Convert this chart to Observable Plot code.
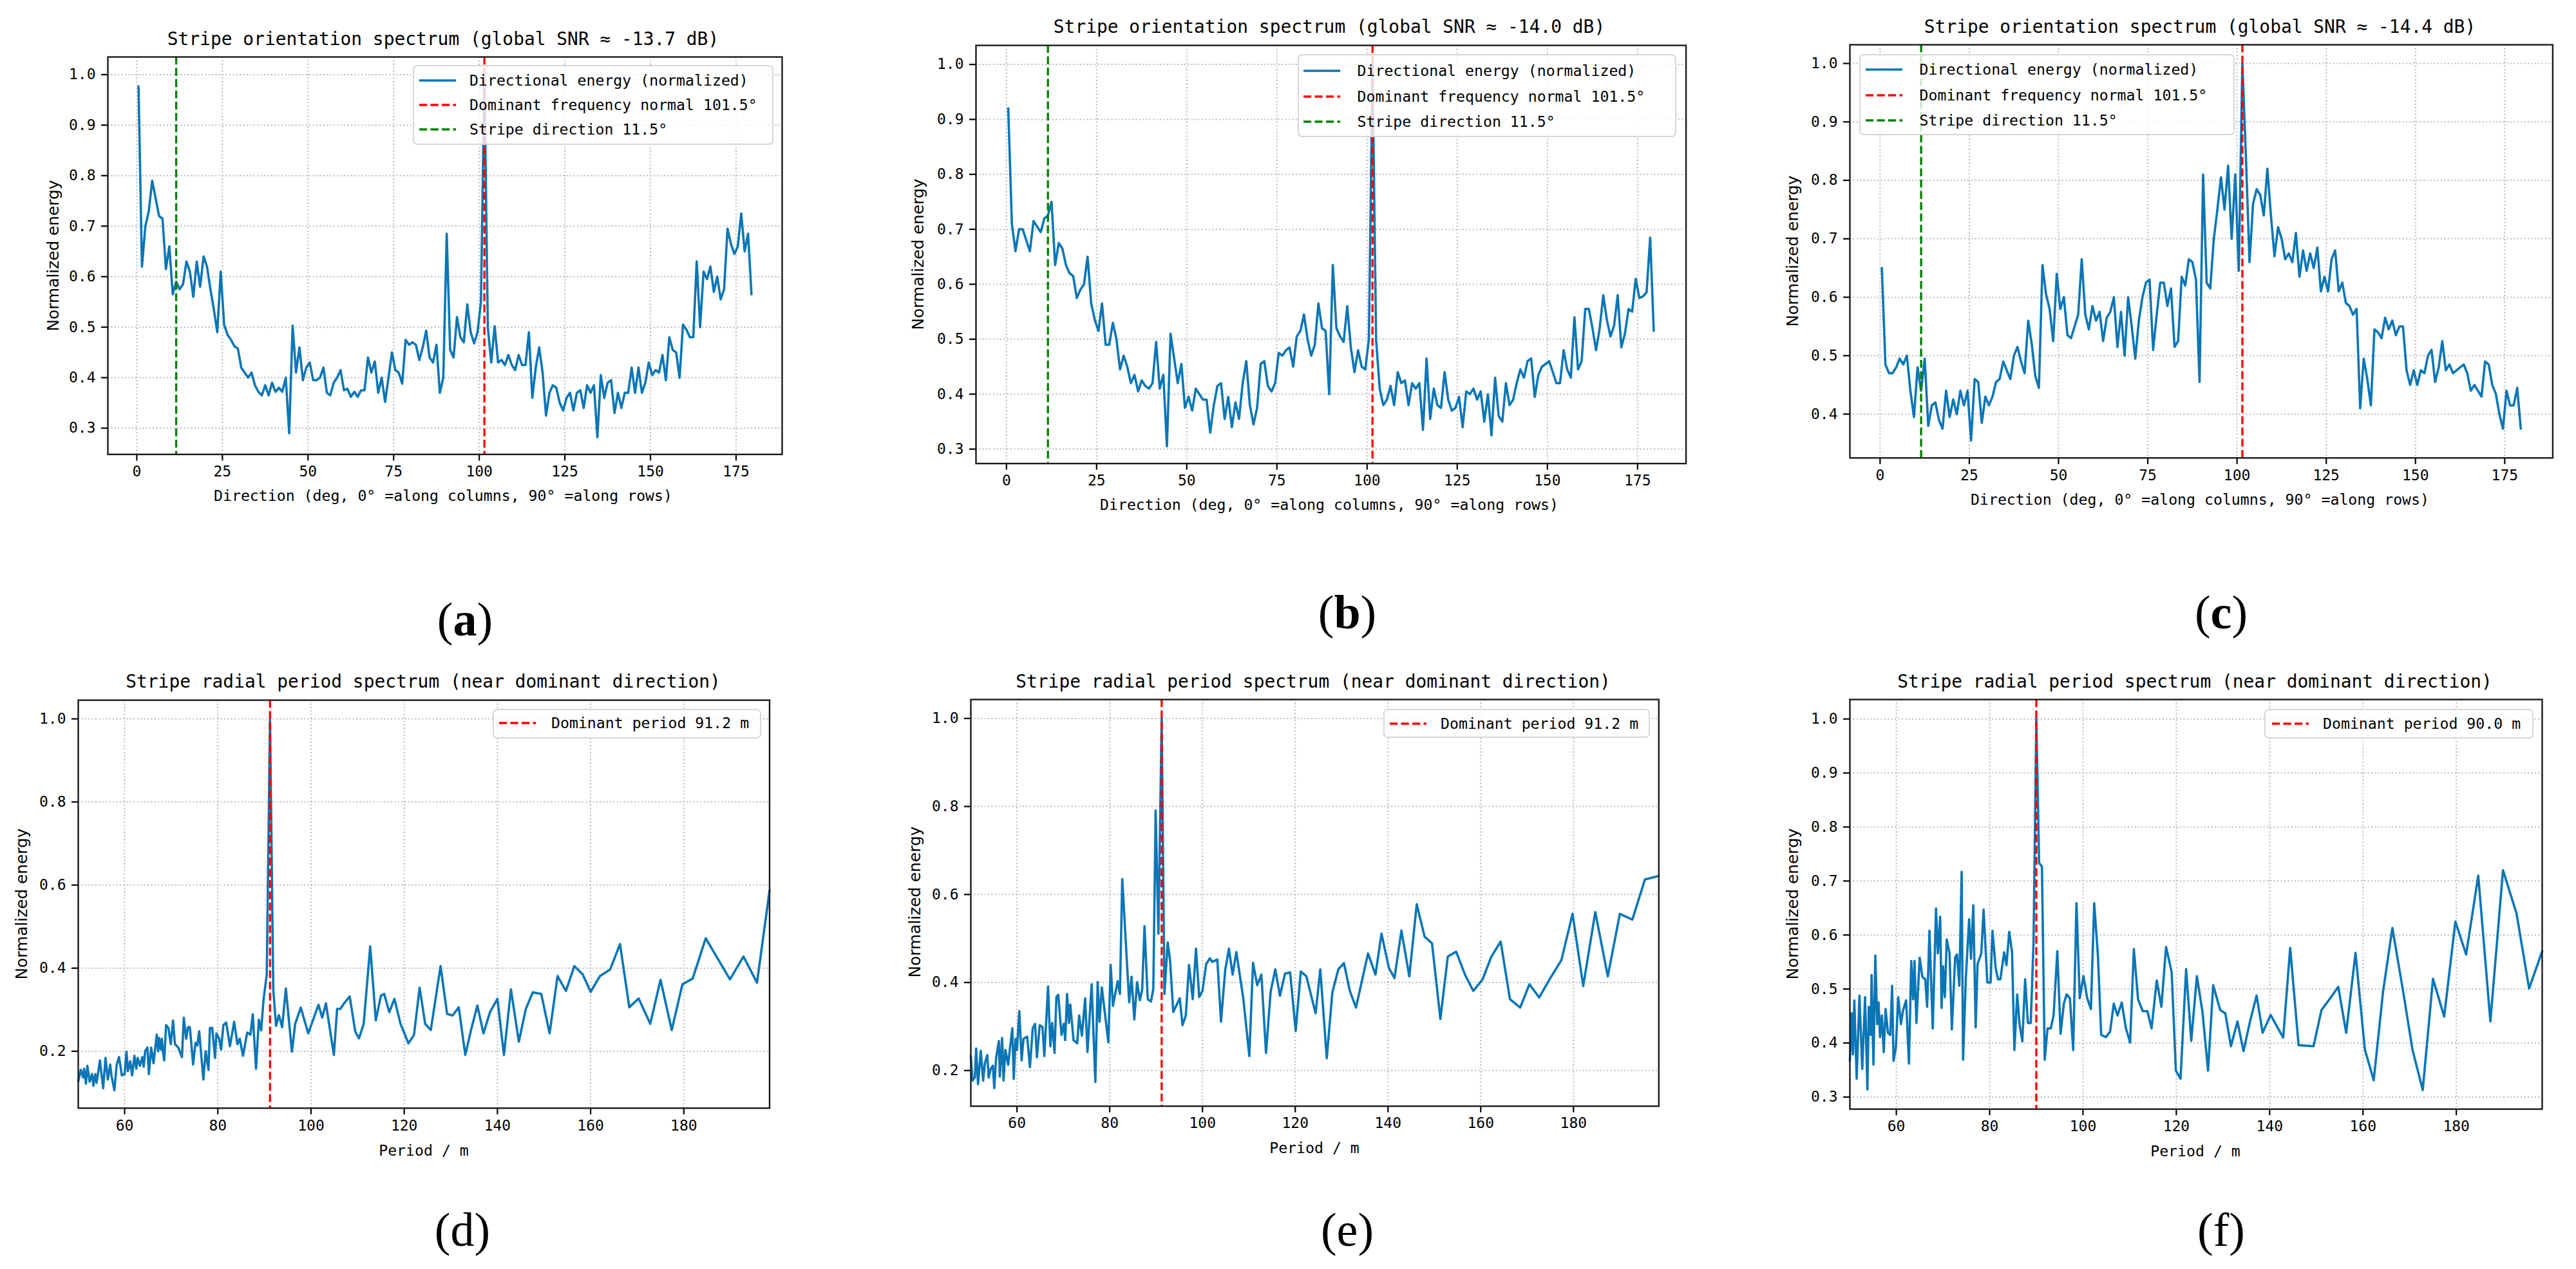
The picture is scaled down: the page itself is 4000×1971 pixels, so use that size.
<!DOCTYPE html>
<html><head><meta charset="utf-8">
<script src="https://cdn.jsdelivr.net/npm/d3@7"></script>
<script src="https://cdn.jsdelivr.net/npm/@observablehq/plot@0.6"></script>
<style>
html,body{margin:0;padding:0;background:#fff;}
#page{position:relative;width:4000px;height:1971px;overflow:hidden;background:#fff;}
.t{position:absolute;white-space:pre;line-height:1;color:#000;}
</style></head><body><div id="page"></div>
<script>
// ---------- data ----------
const angles = d3.range(0.5, 180, 1); // direction bins, deg
const directionTicks = [0, 25, 50, 75, 100, 125, 150, 175];
const periodTicks = [60, 80, 100, 120, 140, 160, 180];

const energyA = [0.977,0.62,0.70,0.73,0.79,0.755,0.72,0.715,0.615,0.66,
 0.565,0.59,0.575,0.585,0.63,0.61,0.56,0.63,0.58,0.64,
 0.62,0.575,0.535,0.49,0.61,0.505,0.485,0.475,0.462,0.458,
 0.42,0.41,0.40,0.41,0.385,0.372,0.365,0.385,0.365,0.39,
 0.372,0.38,0.372,0.40,0.29,0.503,0.41,0.46,0.395,0.42,
 0.43,0.395,0.395,0.40,0.42,0.37,0.365,0.39,0.40,0.415,
 0.375,0.378,0.362,0.372,0.362,0.375,0.375,0.44,0.41,0.432,
 0.37,0.40,0.352,0.40,0.45,0.415,0.41,0.388,0.475,0.465,
 0.47,0.465,0.435,0.46,0.493,0.44,0.43,0.465,0.37,0.40,
 0.685,0.455,0.44,0.52,0.48,0.47,0.545,0.49,0.468,0.49,
 0.55,1.0,0.50,0.43,0.502,0.43,0.435,0.425,0.445,0.425,
 0.415,0.445,0.425,0.425,0.49,0.36,0.42,0.46,0.41,0.325,
 0.37,0.385,0.38,0.35,0.335,0.36,0.37,0.335,0.37,0.375,
 0.34,0.385,0.37,0.385,0.282,0.405,0.36,0.39,0.395,0.33,
 0.37,0.34,0.37,0.37,0.42,0.37,0.42,0.37,0.39,0.43,
 0.405,0.415,0.41,0.445,0.395,0.48,0.455,0.45,0.40,0.505,
 0.495,0.48,0.48,0.63,0.50,0.61,0.595,0.62,0.57,0.60,
 0.555,0.575,0.695,0.665,0.645,0.66,0.725,0.65,0.685,0.565];

const energyB = [0.92,0.71,0.66,0.70,0.70,0.68,0.66,0.715,0.705,0.695,
 0.72,0.725,0.75,0.635,0.675,0.665,0.635,0.62,0.615,0.575,
 0.59,0.60,0.65,0.565,0.535,0.515,0.565,0.49,0.49,0.53,
 0.50,0.445,0.47,0.45,0.42,0.435,0.405,0.425,0.415,0.41,
 0.42,0.495,0.41,0.435,0.305,0.51,0.465,0.42,0.455,0.375,
 0.395,0.37,0.41,0.40,0.39,0.39,0.33,0.38,0.415,0.42,
 0.355,0.395,0.34,0.385,0.355,0.42,0.46,0.38,0.345,0.375,
 0.455,0.46,0.415,0.405,0.42,0.475,0.47,0.48,0.485,0.45,
 0.505,0.515,0.545,0.50,0.47,0.49,0.565,0.52,0.515,0.40,
 0.635,0.52,0.505,0.495,0.56,0.485,0.44,0.48,0.45,0.445,
 0.50,1.0,0.50,0.41,0.38,0.39,0.415,0.38,0.44,0.42,
 0.425,0.38,0.42,0.41,0.42,0.335,0.465,0.355,0.41,0.38,
 0.375,0.44,0.39,0.37,0.375,0.395,0.34,0.405,0.40,0.41,
 0.39,0.405,0.35,0.40,0.325,0.43,0.36,0.35,0.42,0.38,
 0.39,0.42,0.445,0.43,0.46,0.465,0.395,0.435,0.45,0.455,
 0.46,0.44,0.42,0.42,0.48,0.445,0.43,0.54,0.445,0.46,
 0.555,0.555,0.52,0.48,0.52,0.58,0.535,0.505,0.525,0.58,
 0.485,0.51,0.555,0.55,0.61,0.575,0.578,0.585,0.685,0.515];

const energyC = [0.65,0.485,0.47,0.47,0.48,0.495,0.485,0.50,0.44,0.395,
 0.48,0.44,0.495,0.38,0.415,0.42,0.39,0.375,0.44,0.395,
 0.425,0.40,0.44,0.415,0.44,0.355,0.46,0.455,0.385,0.43,
 0.415,0.43,0.455,0.46,0.49,0.475,0.46,0.50,0.515,0.49,
 0.47,0.56,0.52,0.465,0.445,0.655,0.605,0.58,0.525,0.64,
 0.58,0.60,0.535,0.53,0.55,0.57,0.665,0.57,0.545,0.585,
 0.56,0.575,0.525,0.565,0.575,0.60,0.515,0.575,0.50,0.60,
 0.55,0.495,0.56,0.60,0.625,0.63,0.51,0.57,0.625,0.625,
 0.585,0.615,0.515,0.525,0.635,0.62,0.665,0.66,0.63,0.455,
 0.81,0.625,0.615,0.70,0.75,0.805,0.75,0.825,0.70,0.81,
 0.645,1.0,0.84,0.66,0.76,0.785,0.775,0.74,0.82,0.74,
 0.67,0.72,0.70,0.665,0.675,0.66,0.71,0.635,0.68,0.645,
 0.675,0.65,0.685,0.61,0.635,0.61,0.665,0.68,0.61,0.625,
 0.59,0.585,0.57,0.58,0.41,0.495,0.46,0.415,0.545,0.54,
 0.53,0.565,0.545,0.56,0.535,0.55,0.55,0.475,0.45,0.475,
 0.45,0.475,0.47,0.50,0.51,0.455,0.48,0.525,0.475,0.485,
 0.47,0.475,0.48,0.485,0.47,0.44,0.45,0.44,0.43,0.49,
 0.485,0.45,0.435,0.40,0.375,0.44,0.415,0.415,0.445,0.375];

const periodD = [50.05,50.6,51.1,51.3,51.7,52.0,52.5,53.0,53.3,53.7,
 54.0,54.7,55.4,55.9,56.4,56.9,57.2,57.8,58.3,58.8,
 59.4,60.0,60.4,60.7,61.2,61.6,62.1,62.5,62.8,63.3,
 63.8,64.1,64.4,64.9,65.2,65.7,66.2,66.9,67.2,67.4,
 67.8,68.0,68.2,68.5,68.9,69.4,69.9,70.4,70.8,71.5,
 72.3,72.7,73.2,73.6,74.0,74.7,75.2,75.6,76.0,76.9,
 77.4,78.0,78.3,78.8,79.4,79.7,80.3,80.7,81.2,81.8,
 82.6,83.5,84.2,84.7,85.4,86.3,87.0,87.5,88.2,88.8,
 89.3,89.8,90.5,91.2,91.9,92.5,93.1,93.8,94.6,95.9,
 96.6,97.8,99.4,101.6,102.4,103.2,104.9,105.6,106.3,107.2,
 108.3,109.5,110.3,111.3,112.7,113.9,115.0,115.7,116.8,117.9,
 119.2,120.9,122.1,123.3,124.5,125.7,127.8,129.2,130.4,131.7,
 133.1,134.4,135.7,137.0,138.4,140.0,141.4,142.9,144.6,146.1,
 147.6,149.4,151.2,152.9,154.7,156.5,158.3,160.0,162.0,164.2,
 166.3,168.3,170.3,172.8,175.0,177.4,179.7,181.9,184.7,186.8,
 189.9,192.8,195.7,198.4];
const energyD = [0.127,0.155,0.137,0.158,0.122,0.165,0.127,0.145,0.117,0.145,
 0.124,0.178,0.111,0.184,0.132,0.168,0.14,0.106,0.168,0.186,
 0.142,0.145,0.199,0.152,0.176,0.142,0.189,0.158,0.184,0.165,
 0.186,0.163,0.2,0.209,0.145,0.209,0.171,0.24,0.2,0.232,
 0.204,0.23,0.2,0.178,0.263,0.256,0.217,0.274,0.217,0.209,
 0.186,0.281,0.23,0.258,0.258,0.168,0.22,0.214,0.248,0.132,
 0.2,0.155,0.256,0.256,0.184,0.243,0.23,0.204,0.263,0.269,
 0.212,0.271,0.217,0.23,0.189,0.245,0.24,0.289,0.158,0.276,
 0.25,0.323,0.385,1.0,0.348,0.261,0.287,0.258,0.351,0.199,
 0.266,0.305,0.243,0.312,0.281,0.315,0.191,0.302,0.302,0.317,
 0.332,0.247,0.231,0.266,0.452,0.274,0.334,0.338,0.294,0.326,
 0.266,0.219,0.239,0.353,0.266,0.251,0.405,0.29,0.286,0.306,
 0.191,0.254,0.31,0.243,0.294,0.326,0.191,0.349,0.223,0.302,
 0.342,0.338,0.243,0.381,0.345,0.405,0.385,0.343,0.381,0.397,
 0.458,0.306,0.327,0.266,0.372,0.251,0.361,0.375,0.472,0.432,
 0.373,0.428,0.365,0.587];

const periodE = [50.05,50.4,50.9,51.2,51.6,52.2,52.7,53.1,53.6,53.9,
 54.3,54.8,55.1,55.5,56.1,56.3,56.8,57.1,57.5,58.1,
 58.5,59.0,59.3,59.7,60.0,60.5,61.0,61.4,62.2,62.8,
 63.4,63.9,64.3,64.9,65.5,65.9,66.7,67.2,67.6,68.1,
 68.5,68.9,69.6,70.1,70.4,70.8,71.2,71.5,72.2,73.0,
 73.4,74.0,74.7,75.2,76.1,76.9,77.4,77.8,78.3,79.7,
 80.2,80.7,81.1,81.7,82.2,82.7,84.2,84.7,85.3,85.9,
 86.5,87.0,87.5,88.2,88.9,89.4,89.9,90.5,91.2,91.8,
 92.5,93.0,93.7,95.1,95.7,96.4,97.1,97.9,98.6,99.3,
 100.0,100.8,101.6,102.1,103.2,104.0,104.9,105.7,106.5,107.3,
 108.8,110.1,110.9,111.8,112.7,113.7,114.7,115.7,116.7,117.8,
 118.9,120.1,121.2,122.4,124.4,125.4,126.8,128.0,129.3,130.5,
 131.8,133.1,135.7,137.3,138.6,140.2,141.4,142.9,144.6,146.2,
 147.9,149.5,151.3,152.9,154.7,156.6,158.4,160.4,162.3,164.3,
 166.3,168.5,170.5,172.6,175.0,177.4,179.8,182.1,184.7,187.4,
 190.0,192.7,195.4,198.4];
const energyE = [0.233,0.177,0.184,0.25,0.169,0.245,0.177,0.218,0.235,0.184,
 0.203,0.211,0.16,0.228,0.267,0.186,0.274,0.177,0.247,0.213,
 0.252,0.296,0.181,0.272,0.247,0.335,0.223,0.272,0.277,0.208,
 0.296,0.306,0.23,0.303,0.299,0.233,0.391,0.255,0.308,0.24,
 0.367,0.372,0.281,0.306,0.269,0.374,0.308,0.35,0.269,0.262,
 0.325,0.279,0.364,0.242,0.396,0.174,0.401,0.311,0.389,0.264,
 0.44,0.347,0.369,0.403,0.374,0.635,0.355,0.413,0.316,0.401,
 0.36,0.384,0.528,0.362,0.357,0.386,0.791,0.511,1.0,0.374,
 0.491,0.452,0.333,0.364,0.303,0.325,0.44,0.362,0.477,0.367,
 0.381,0.442,0.455,0.447,0.452,0.311,0.428,0.477,0.418,0.469,
 0.364,0.233,0.445,0.394,0.418,0.24,0.379,0.43,0.37,0.42,
 0.423,0.29,0.425,0.414,0.33,0.43,0.228,0.377,0.43,0.444,
 0.38,0.343,0.466,0.418,0.511,0.433,0.41,0.518,0.414,0.578,
 0.504,0.489,0.317,0.459,0.47,0.418,0.381,0.407,0.459,0.493,
 0.362,0.343,0.396,0.366,0.41,0.451,0.556,0.392,0.56,0.414,
 0.556,0.543,0.634,0.642];

const periodF = [50.05,50.4,50.7,51.0,51.5,52.1,52.7,53.3,53.8,54.1,
 54.5,54.7,55.1,55.5,55.9,56.2,56.5,56.9,57.3,57.7,
 58.2,58.7,59.1,59.4,59.9,60.4,61.0,61.4,62.1,62.7,
 63.2,63.6,63.9,64.3,65.0,65.6,66.2,66.6,67.1,67.8,
 68.5,68.9,69.4,69.7,70.0,70.4,70.8,71.4,71.9,72.6,
 73.0,73.5,74.0,74.3,74.9,75.6,76.0,76.5,77.0,77.4,
 78.2,78.7,79.5,80.2,80.6,81.3,81.8,82.3,83.1,83.6,
 84.2,84.8,85.3,85.9,86.4,87.0,87.6,88.2,88.8,89.4,
 90.0,90.6,91.2,91.8,92.4,93.1,93.7,94.5,95.2,95.9,
 96.5,97.2,97.9,98.6,99.3,100.1,100.9,101.7,102.4,103.2,
 103.9,104.9,105.8,106.6,107.4,108.3,109.2,110.1,110.9,111.8,
 112.8,113.8,114.7,115.8,116.8,117.8,119.0,119.9,120.9,122.1,
 123.2,124.4,125.6,126.8,127.9,129.4,130.5,131.7,133.1,134.4,
 135.8,137.2,138.5,140.2,142.9,144.4,146.2,149.4,151.1,152.9,
 154.7,156.4,158.4,160.4,162.3,164.3,166.3,168.5,170.6,172.8,
 175.0,177.4,179.8,182.1,184.7,187.3,190.0,192.9,195.6,198.4];
const energyF = [0.367,0.455,0.379,0.479,0.334,0.488,0.352,0.485,0.314,0.467,
 0.415,0.526,0.36,0.562,0.435,0.475,0.411,0.451,0.383,0.463,
 0.419,0.415,0.506,0.367,0.391,0.485,0.435,0.459,0.479,0.362,
 0.552,0.481,0.552,0.437,0.558,0.522,0.518,0.467,0.608,0.427,
 0.649,0.566,0.634,0.465,0.542,0.485,0.592,0.566,0.425,0.558,
 0.564,0.506,0.717,0.369,0.522,0.629,0.556,0.655,0.429,0.546,
 0.566,0.647,0.512,0.512,0.608,0.538,0.518,0.518,0.568,0.544,
 0.606,0.568,0.387,0.49,0.435,0.403,0.518,0.437,0.437,0.586,
 1.0,0.733,0.727,0.369,0.427,0.427,0.451,0.57,0.417,0.473,
 0.49,0.483,0.387,0.659,0.483,0.524,0.483,0.463,0.659,0.562,
 0.415,0.411,0.421,0.473,0.451,0.475,0.427,0.401,0.574,0.481,
 0.459,0.459,0.427,0.516,0.467,0.578,0.531,0.349,0.334,0.537,
 0.404,0.524,0.458,0.349,0.507,0.461,0.455,0.394,0.44,0.385,
 0.44,0.488,0.419,0.452,0.41,0.576,0.396,0.394,0.461,0.482,
 0.504,0.419,0.567,0.388,0.331,0.495,0.613,0.501,0.388,0.313,
 0.519,0.449,0.625,0.564,0.71,0.44,0.72,0.64,0.501,0.57];

const ticks03 = [0.3,0.4,0.5,0.6,0.7,0.8,0.9,1.0];
const ticks04 = [0.4,0.5,0.6,0.7,0.8,0.9,1.0];
const ticks02 = [0.2,0.4,0.6,0.8,1.0];

const titleTop = ["Stripe orientation spectrum (global SNR \u2248 -13.7 dB)",
                  "Stripe orientation spectrum (global SNR \u2248 -14.0 dB)",
                  "Stripe orientation spectrum (global SNR \u2248 -14.4 dB)"];
const titleBottom = "Stripe radial period spectrum (near dominant direction)";
const xLabelTop = "Direction (deg, 0\u00b0 =along columns, 90\u00b0 =along rows)";
const xLabelBottom = "Period / m";
const yLabel = "Normalized energy";
const legendTop = ["Directional energy (normalized)", "Dominant frequency normal 101.5\u00b0", "Stripe direction 11.5\u00b0"];
const legendBottom = ["Dominant period 91.2 m", "Dominant period 91.2 m", "Dominant period 90.0 m"];
const dominantDir = 101.5, stripeDir = 11.5;
const dominantPeriods = [91.2, 91.2, 90.0];
const panelLetters = ["a","b","c","d","e","f"];

// ---------- styles ----------
const BLUE = "#0b76b6", RED = "#ff0000", GREEN = "#008000", GRID = "#b8b8b8";
const MONO = "'DejaVu Sans Mono', monospace";
const DASH = "12.2,5.3";
const page = document.getElementById("page");

const zip = (xs, ys) => xs.slice(0, Math.min(xs.length, ys.length)).map((x, i) => ({x, y: ys[i]}));

const panels = [
  {frame:[166.7,87.8,1213.7,705.1], xDomain:[-8.45,188.45], yDomain:[0.248,1.035], xTicks:directionTicks, yTicks:ticks03,
   rows:zip(angles, energyA), rules:[{x:dominantDir,c:RED},{x:stripeDir,c:GREEN}]},
  {frame:[1515.2,69.9,2617.8,719.4], xDomain:[-8.45,188.45], yDomain:[0.2737,1.0347], xTicks:directionTicks, yTicks:ticks03,
   rows:zip(angles, energyB), rules:[{x:dominantDir,c:RED},{x:stripeDir,c:GREEN}]},
  {frame:[2872,68.9,3963.4,710.7], xDomain:[-8.45,188.45], yDomain:[0.325,1.032], xTicks:directionTicks, yTicks:ticks04,
   rows:zip(angles, energyC), rules:[{x:dominantDir,c:RED},{x:stripeDir,c:GREEN}]},
  {frame:[121.4,1087.1,1194.9,1720.8], xDomain:[50.05,198.4], yDomain:[0.063,1.045], xTicks:periodTicks, yTicks:ticks02,
   rows:zip(periodD, energyD), rules:[{x:dominantPeriods[0],c:RED}]},
  {frame:[1506.7,1085.6,2575,1717.2], xDomain:[50.05,198.4], yDomain:[0.119,1.043], xTicks:periodTicks, yTicks:ticks02,
   rows:zip(periodE, energyE), rules:[{x:dominantPeriods[1],c:RED}]},
  {frame:[2872,1086.1,3947,1722.3], xDomain:[50.05,198.4], yDomain:[0.2776,1.036], xTicks:periodTicks, yTicks:ticks03,
   rows:zip(periodF, energyF), rules:[{x:dominantPeriods[2],c:RED}]}
];

function drawPanel(p) {
  const [x0,y0,x1,y1] = p.frame;
  const mL = 100, mR = 30, mT = 30, mB = 70;
  const w = x1 - x0, h = y1 - y0;
  const gridOpts = {stroke: GRID, strokeOpacity: 1, strokeWidth: 2, strokeDasharray: "2,3.4"};
  const svg = Plot.plot({
    width: w + mL + mR, height: h + mT + mB,
    marginLeft: mL, marginRight: mR, marginTop: mT, marginBottom: mB,
    x: {domain: p.xDomain, label: null},
    y: {domain: p.yDomain, label: null},
    style: {background: "transparent", fontFamily: MONO, fontSize: "23px", color: "#000", maxWidth: "none", overflow: "visible"},
    marks: [
      Plot.gridX(p.xTicks, gridOpts),
      Plot.gridY(p.yTicks, gridOpts),
      Plot.line(p.rows, {x: "x", y: "y", stroke: BLUE, strokeWidth: 3.6, strokeLinejoin: "round"}),
      ...p.rules.map(r => Plot.ruleX([r.x], {stroke: r.c, strokeWidth: 3.3, strokeDasharray: DASH})),
      Plot.axisX(p.xTicks, {tickSize: 10, tickPadding: 8, strokeWidth: 2.2, fontSize: 23, fontFamily: MONO, label: null}),
      Plot.axisY(p.yTicks, {tickSize: 10, tickPadding: 9, strokeWidth: 2.2, fontSize: 23, fontFamily: MONO, label: null, tickFormat: d3.format(".1f")}),
      Plot.frame({stroke: "#1a1a1a", strokeWidth: 2.4})
    ]
  });
  svg.style.position = "absolute";
  svg.style.left = (x0 - mL) + "px";
  svg.style.top = (y0 - mT) + "px";
  page.appendChild(svg);
}
panels.forEach(drawPanel);

// ---------- text helpers ----------
function text(str, x, y, css, mode) {
  const d = document.createElement("div");
  d.className = "t";
  d.textContent = str;
  Object.assign(d.style, css);
  d.style.left = x + "px";
  d.style.top = y + "px";
  if (mode === "rot") d.style.transform = "translate(-50%,-50%) rotate(-90deg)";
  else if (mode === "left") d.style.transform = "translate(0,-50%)";
  else d.style.transform = "translate(-50%,-50%)";
  page.appendChild(d);
  return d;
}
const titleCss = {fontFamily: MONO, fontSize: "27.9px"};
const labelCss = {fontFamily: MONO, fontSize: "23.2px"};
const yLabCss = {fontFamily: "'DejaVu Sans', sans-serif", fontSize: "24.8px"};

text(titleTop[0], 688, 61, titleCss);
text(titleTop[1], 2064, 42, titleCss);
text(titleTop[2], 3416, 42, titleCss);
text(titleBottom, 657, 1059, titleCss);
text(titleBottom, 2039, 1059, titleCss);
text(titleBottom, 3408, 1059, titleCss);

text(xLabelTop, 688, 770, labelCss);
text(xLabelTop, 2064, 784, labelCss);
text(xLabelTop, 3416, 776, labelCss);
text(xLabelBottom, 658, 1787, labelCss);
text(xLabelBottom, 2041, 1783, labelCss);
text(xLabelBottom, 3409, 1788, labelCss);

[[82.5,396.5],[1425.5,394.7],[2784,389.8],[34,1404],[1420.5,1401.4],[2784,1404.2]]
  .forEach(([x,y]) => text(yLabel, x, y, yLabCss, "rot"));

// ---------- legends ----------
function legend(box, rowsY, sampleX, textX, entries) {
  const [bx0, by0, bx1, by1] = box;
  const b = document.createElement("div");
  Object.assign(b.style, {position: "absolute", left: bx0 + "px", top: by0 + "px",
    width: (bx1 - bx0) + "px", height: (by1 - by0) + "px", boxSizing: "border-box",
    border: "2px solid #d6d6d6", borderRadius: "7px", background: "rgba(255,255,255,0.8)"});
  page.appendChild(b);
  entries.forEach((e, i) => {
    const y = rowsY[i];
    const ns = "http://www.w3.org/2000/svg";
    const s = document.createElementNS(ns, "svg");
    s.setAttribute("width", 60); s.setAttribute("height", 12);
    Object.assign(s.style, {position: "absolute", left: sampleX + "px", top: (y - 6) + "px", overflow: "visible"});
    const l = document.createElementNS(ns, "line");
    l.setAttribute("x1", 0); l.setAttribute("x2", 57); l.setAttribute("y1", 6); l.setAttribute("y2", 6);
    l.setAttribute("stroke", e.c);
    l.setAttribute("stroke-width", e.dash ? 3.3 : 3.6);
    if (e.dash) l.setAttribute("stroke-dasharray", DASH);
    s.appendChild(l);
    page.appendChild(s);
    text(e.t, textX, y, labelCss, "left");
  });
}
const topEntries = [{t: legendTop[0], c: BLUE}, {t: legendTop[1], c: RED, dash: true}, {t: legendTop[2], c: GREEN, dash: true}];
legend([641,101,1201,224.5], [125,163,200.5], 651, 729, topEntries);
legend([2015,84,2603,213], [110,149.5,189], 2024, 2107.5, topEntries);
legend([2886.5,84,3470,210], [108,148,187], 2897, 2980.5, topEntries);
legend([765,1101,1182,1147], [1123], 775, 856, [{t: legendBottom[0], c: RED, dash: true}]);
legend([2148,1101,2562,1146], [1123.5], 2158, 2237, [{t: legendBottom[1], c: RED, dash: true}]);
legend([3516,1101,3933.5,1147], [1124], 3527.5, 3607, [{t: legendBottom[2], c: RED, dash: true}]);

// ---------- panel letters ----------
const letterPos = [[722,962],[2092,951],[3449,951],[718,1910],[2092,1910],[3449,1910]];
panelLetters.forEach((L, i) => {
  const d = text("", letterPos[i][0], letterPos[i][1], {fontFamily: "'Liberation Serif', 'Times New Roman', serif", fontSize: "74px"});
  const bold = i < 3 ? "700" : "400";
  d.innerHTML = `(<span style="font-weight:${bold}">${L}</span>)`;
});
</script></body></html>
